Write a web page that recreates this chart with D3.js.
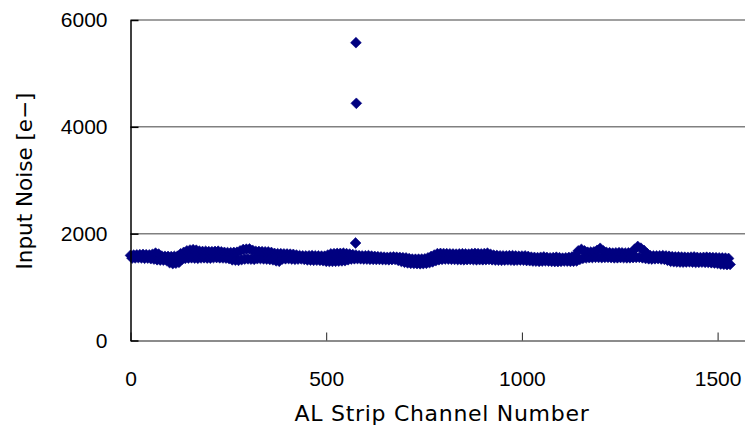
<!DOCTYPE html>
<html>
<head>
<meta charset="utf-8">
<script src="https://cdn.jsdelivr.net/npm/d3@7"></script>
<style>
  body { margin: 0; background: #fff; }
  svg { display: block; font-family: "DejaVu Sans", sans-serif; }
  .axis text { font-size: 21px; fill: #000; }
</style>
</head>
<body>
<svg id="chart" width="745" height="428"></svg>
<script>
// input noise per strip, read every 4th channel (channel = index * 4)
const channelStep = 4;
const noise = [
  1593, 1542, 1600, 1546, 1603, 1550, 1606, 1545, 1610, 1540, 1605, 1543, 1602, 1532, 1613, 1524,
  1636, 1512, 1618, 1506, 1580, 1504, 1576, 1500, 1574, 1457, 1571, 1440, 1575, 1448, 1578, 1464,
  1623, 1522, 1650, 1537, 1678, 1544, 1693, 1548, 1700, 1542, 1690, 1540, 1672, 1545, 1666, 1549,
  1670, 1544, 1664, 1541, 1662, 1550, 1667, 1553, 1671, 1548, 1660, 1545, 1650, 1543, 1646, 1532,
  1644, 1510, 1648, 1504, 1652, 1501, 1678, 1514, 1704, 1526, 1710, 1528, 1714, 1523, 1688, 1520,
  1670, 1531, 1666, 1533, 1663, 1528, 1660, 1524, 1658, 1518, 1648, 1510, 1630, 1492, 1625, 1484,
  1624, 1526, 1621, 1530, 1619, 1533, 1616, 1526, 1612, 1521, 1600, 1525, 1589, 1528, 1585, 1518,
  1582, 1508, 1586, 1505, 1589, 1502, 1584, 1503, 1582, 1501, 1580, 1494, 1578, 1483, 1600, 1480,
  1622, 1481, 1626, 1484, 1629, 1486, 1631, 1490, 1634, 1494, 1626, 1512, 1618, 1526, 1608, 1530,
  1598, 1533, 1588, 1529, 1584, 1526, 1586, 1524, 1589, 1521, 1580, 1519, 1574, 1517, 1568, 1518,
  1564, 1516, 1560, 1514, 1557, 1511, 1561, 1515, 1564, 1518, 1559, 1500, 1556, 1480, 1550, 1464,
  1546, 1453, 1534, 1446, 1524, 1442, 1522, 1439, 1523, 1436, 1525, 1440, 1529, 1446, 1548, 1457,
  1573, 1472, 1600, 1494, 1626, 1512, 1630, 1520, 1628, 1526, 1625, 1524, 1622, 1521, 1619, 1518,
  1617, 1516, 1621, 1513, 1624, 1511, 1620, 1515, 1617, 1518, 1624, 1514, 1629, 1511, 1626, 1513,
  1620, 1512, 1628, 1514, 1634, 1517, 1613, 1512, 1596, 1506, 1591, 1503, 1586, 1501, 1584, 1505,
  1582, 1508, 1587, 1504, 1589, 1501, 1582, 1504, 1577, 1507, 1581, 1503, 1584, 1498, 1573, 1494,
  1560, 1488, 1556, 1485, 1552, 1481, 1558, 1486, 1564, 1492, 1554, 1487, 1547, 1481, 1553, 1479,
  1559, 1477, 1550, 1482, 1542, 1488, 1548, 1485, 1554, 1481, 1563, 1484, 1590, 1490, 1678, 1517,
  1706, 1538, 1678, 1545, 1652, 1551, 1656, 1554, 1660, 1558, 1688, 1555, 1726, 1552, 1678, 1555,
  1649, 1558, 1643, 1552, 1636, 1547, 1640, 1549, 1644, 1553, 1641, 1550, 1637, 1547, 1640, 1549,
  1644, 1552, 1708, 1555, 1760, 1558, 1728, 1548, 1686, 1536, 1628, 1530, 1588, 1526, 1584, 1530,
  1582, 1533, 1586, 1526, 1589, 1521, 1582, 1502, 1577, 1483, 1568, 1476, 1563, 1471, 1565, 1469,
  1562, 1466, 1559, 1470, 1557, 1473, 1561, 1467, 1564, 1461, 1556, 1465, 1552, 1468, 1556, 1464,
  1559, 1461, 1555, 1456, 1552, 1451, 1549, 1442, 1547, 1432, 1545, 1426, 1542, 1421, 1536, 1424
];
// the noisy channels near 576
const outlierChannels = [575, 576, 577];
const outlierNoise = [1825, 5575, 4440];

const xTicks = [0, 500, 1000, 1500];
const yTicks = [0, 2000, 4000, 6000];

const svg = d3.select("#chart");
const plotLeft = 130.5, plotTop = 20, plotBottom = 340.5;

const x = d3.scaleLinear().domain([0, 1600]).range([plotLeft, plotLeft + 1600 * 0.3914]);
const y = d3.scaleLinear().domain([0, 6000]).range([plotBottom, plotTop]);

// horizontal gridlines
svg.append("g")
  .selectAll("line")
  .data(yTicks.filter(d => d > 0))
  .join("line")
  .attr("x1", x(0)).attr("x2", x(1600))
  .attr("y1", d => y(d)).attr("y2", d => y(d))
  .attr("stroke", "#808080")
  .attr("stroke-width", 1.5);

const points = noise.map((v, i) => ({ ch: i * channelStep, v: v }))
  .concat(outlierChannels.map((c, i) => ({ ch: c, v: outlierNoise[i] })));

const diamond = "M0,-5.4L5.4,0L0,5.4L-5.4,0Z";
svg.append("g")
  .selectAll("path")
  .data(points)
  .join("path")
  .attr("d", diamond)
  .attr("transform", d => `translate(${x(d.ch)},${y(d.v)})`)
  .attr("fill", "#000080")
  .attr("stroke", "#000080")
  .attr("stroke-width", 0.6);

const xAxis = svg.append("g")
  .attr("class", "axis")
  .attr("transform", `translate(0,${plotBottom})`)
  .call(d3.axisBottom(x).tickValues(xTicks).tickFormat(d3.format("d"))
    .tickSizeInner(-8).tickSizeOuter(0).tickPadding(31));
xAxis.select(".domain").attr("stroke", "#666").attr("stroke-width", 1.5);
xAxis.selectAll(".tick line").attr("stroke", "#222");

const yAxis = svg.append("g")
  .attr("class", "axis")
  .attr("transform", `translate(${plotLeft},0)`)
  .call(d3.axisLeft(y).tickValues(yTicks).tickFormat(d3.format("d"))
    .tickSizeInner(-8).tickSizeOuter(0).tickPadding(23));
yAxis.select(".domain").attr("stroke", "#000").attr("stroke-width", 1.5);
yAxis.selectAll(".tick line").attr("stroke", "#000").attr("stroke-width", 1.5);

svg.append("text")
  .attr("x", 442)
  .attr("y", 421)
  .attr("text-anchor", "middle")
  .attr("font-size", 22)
  .attr("letter-spacing", 0.7)
  .text("AL Strip Channel Number");

svg.append("text")
  .attr("transform", "translate(32,181) rotate(-90)")
  .attr("text-anchor", "middle")
  .attr("font-size", 21.5)
  .text("Input Noise [e−]");
</script>
</body>
</html>
